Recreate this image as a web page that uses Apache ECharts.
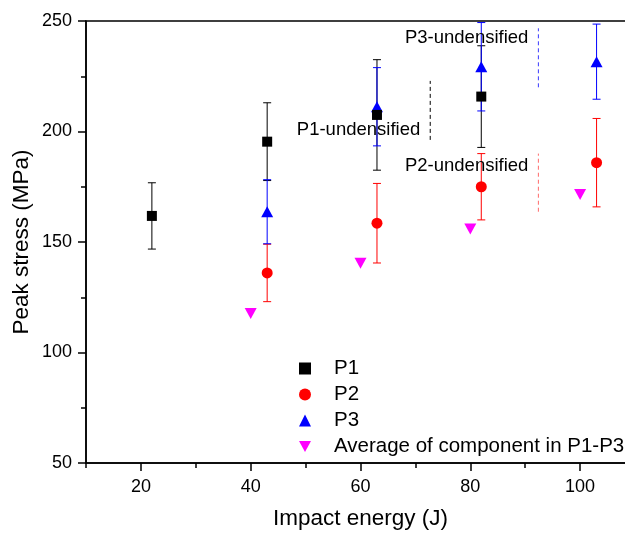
<!DOCTYPE html>
<html>
<head>
<meta charset="utf-8">
<script src="https://cdn.jsdelivr.net/npm/echarts@6/dist/echarts.min.js"></script>
<style>
  html, body { margin: 0; padding: 0; background: #fff; overflow: hidden; }
  #chart { width: 645px; height: 536px; }
</style>
</head>
<body>
<div id="chart"></div>
<script>
// Peak stress vs impact energy for P1, P2, P3 and component average
const p1X = [22, 43, 63, 82];
const p1Y = [161.8, 195.4, 207.5, 215.8];
const p1Err = [15, 17.6, 25, 23];

const p2X = [43, 63, 82, 103];
const p2Y = [136, 158.5, 175, 185.9];
const p2Err = [13, 18, 15, 20];

const p3X = [43, 63, 82, 103];
const p3Y = [163.7, 211.2, 229.3, 231.6];
const p3Err = [14.5, 17.7, 20, 17];

const avgX = [40, 60, 80, 100];
const avgY = [117.7, 140.4, 155.9, 171.5];

// undensified reference ranges (dashed vertical segments)
const refX = [72.7, 92.4, 92.4];
const refLow = [196.2, 220, 163.7];
const refHigh = [222.9, 246.7, 190];
const refColor = ['#000000', '#3a3aff', '#ff6a6a'];
const refText = ['P1-undensified', 'P3-undensified', 'P2-undensified'];
const refTextY = [200.7, 242.3, 184.5];

const xTicks = [20, 40, 60, 80, 100];

const FONT = 'Liberation Sans, Arial, sans-serif';

function pairs(xs, ys) { return xs.map((x, i) => [x, ys[i]]); }

function errorBars(name, xs, ys, errs, color) {
  return {
    type: 'custom',
    name: name,
    xAxisIndex: 0,
    yAxisIndex: 0,
    encode: { x: 0, y: 1 },
    silent: true,
    z: 2,
    data: xs.map((x, i) => [x, ys[i], errs[i]]),
    renderItem: function (params, api) {
      const x = api.value(0), y = api.value(1), e = api.value(2);
      const top = api.coord([x, y + e]);
      const bot = api.coord([x, y - e]);
      const hw = 4;
      const st = { stroke: color, lineWidth: 1 };
      return {
        type: 'group',
        children: [
          { type: 'line', shape: { x1: top[0], y1: top[1], x2: bot[0], y2: bot[1] }, style: st },
          { type: 'line', shape: { x1: top[0] - hw, y1: top[1], x2: top[0] + hw, y2: top[1] }, style: st },
          { type: 'line', shape: { x1: bot[0] - hw, y1: bot[1], x2: bot[0] + hw, y2: bot[1] }, style: st }
        ]
      };
    }
  };
}

const refLines = {
  type: 'custom',
  name: 'ref',
  xAxisIndex: 0,
  yAxisIndex: 0,
  encode: { x: 0, y: 1 },
  silent: true,
  z: 1,
  data: refX.map((x, i) => [x, refLow[i], refHigh[i], i]),
  renderItem: function (params, api) {
    const x = api.value(0);
    const a = api.coord([x, api.value(1)]);
    const b = api.coord([x, api.value(2)]);
    const i = api.value(3);
    return {
      type: 'line',
      shape: { x1: a[0], y1: a[1], x2: b[0], y2: b[1] },
      style: { stroke: refColor[i], lineWidth: 1, lineDash: [4, 3] }
    };
  }
};

const refLabels = {
  type: 'scatter',
  name: 'refLabel',
  xAxisIndex: 0,
  yAxisIndex: 0,
  symbolSize: 0,
  silent: true,
  itemStyle: { opacity: 1 },
  data: refX.map((x, i) => ({ value: [x, refTextY[i]], name: refText[i] })),
  label: {
    show: true,
    position: 'left',
    distance: 10,
    formatter: p => p.name,
    fontFamily: FONT,
    fontSize: 18.5,
    color: '#000'
  }
};

const chart = echarts.init(document.getElementById('chart'));
chart.setOption({
  animation: false,
  backgroundColor: '#fff',
  grid: {
    left: 86, top: 21, width: 549, height: 442,
    show: true, borderColor: '#000', borderWidth: 1.5, backgroundColor: 'transparent'
  },
  legend: {
    orient: 'vertical',
    left: 294,
    top: 353,
    itemWidth: 12,
    itemHeight: 12,
    itemGap: 5,
    textStyle: { fontFamily: FONT, fontSize: 20.5, color: '#000', lineHeight: 20, padding: [0, 0, 0, 18] },
    data: [
      { name: 'P1', itemStyle: { opacity: 1 } },
      { name: 'P2', itemStyle: { opacity: 1 } },
      { name: 'P3', itemStyle: { opacity: 1 } },
      { name: 'Average of component in P1-P3', icon: 'path://M0,0 L12,0 L6,11 Z', itemStyle: { opacity: 1 } }
    ]
  },
  xAxis: [
    {
      type: 'value', position: 'bottom', min: 10, max: 110, interval: 10,
      axisLine: { show: true, lineStyle: { color: '#000', width: 1.5 } },
      axisTick: { show: true, inside: false, length: 5, lineStyle: { color: '#000', width: 1.5 } },
      axisLabel: { show: false },
      splitLine: { show: false },
      name: 'Impact energy (J)',
      nameLocation: 'middle',
      nameGap: 44,
      nameMoveOverlap: false,
      nameTextStyle: { fontFamily: FONT, fontSize: 22.5, color: '#000' }
    },
    {
      type: 'value', position: 'bottom', min: 10, max: 110,
      axisLine: { show: false },
      axisTick: { show: true, inside: false, length: 8, customValues: xTicks, lineStyle: { color: '#000', width: 1.5 } },
      axisLabel: { show: true, customValues: xTicks, fontFamily: FONT, fontSize: 18, color: '#000', margin: 15 },
      splitLine: { show: false }
    }
  ],
  yAxis: {
    type: 'value', min: 50, max: 250, interval: 50,
    axisLine: { show: true, lineStyle: { color: '#000', width: 1.5 } },
    axisTick: { show: true, inside: false, length: 8, lineStyle: { color: '#000', width: 1.5 } },
    minorTick: { show: true, splitNumber: 2, length: 5, lineStyle: { color: '#000', width: 1.5 } },
    axisLabel: { fontFamily: FONT, fontSize: 18, color: '#000', margin: 14 },
    splitLine: { show: false },
    name: 'Peak stress (MPa)',
    nameLocation: 'middle',
    nameGap: 53,
    nameMoveOverlap: false,
    nameTextStyle: { fontFamily: FONT, fontSize: 22.5, color: '#000' }
  },
  series: [
    refLines,
    refLabels,
    errorBars('P1 err', p1X, p1Y, p1Err, '#000'),
    errorBars('P2 err', p2X, p2Y, p2Err, '#ff0000'),
    errorBars('P3 err', p3X, p3Y, p3Err, '#0000ff'),
    {
      type: 'scatter', name: 'P3', data: pairs(p3X, p3Y),
      symbol: 'triangle', symbolSize: [12, 11], itemStyle: { color: '#0000ff', opacity: 1 }, z: 3
    },
    {
      type: 'scatter', name: 'P1', data: pairs(p1X, p1Y),
      symbol: 'rect', symbolSize: 10, itemStyle: { color: '#000000', opacity: 1 }, z: 4
    },
    {
      type: 'scatter', name: 'P2', data: pairs(p2X, p2Y),
      symbol: 'circle', symbolSize: 11, itemStyle: { color: '#ff0000', opacity: 1 }, z: 4
    },
    {
      type: 'scatter', name: 'Average of component in P1-P3', data: pairs(avgX, avgY),
      symbol: 'triangle', symbolRotate: 180, symbolSize: [12, 11], itemStyle: { color: '#ff00ff', opacity: 1 }, z: 4
    }
  ]
});
</script>
</body>
</html>
